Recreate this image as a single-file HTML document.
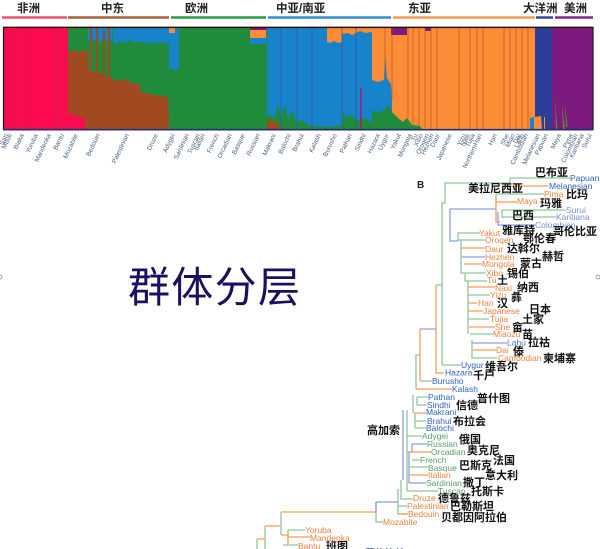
<!DOCTYPE html>
<html><head><meta charset="utf-8"><style>
html,body{margin:0;padding:0;background:#fff;width:600px;height:549px;overflow:hidden}
svg{display:block;position:absolute;left:0;top:0;filter:blur(.3px)}
.z{font-family:"Liberation Sans","Noto Sans CJK SC",sans-serif;font-weight:700;font-size:11px;fill:#111}
.t{font-family:"Liberation Sans","Noto Sans CJK SC",sans-serif;font-weight:700;font-size:11.5px;fill:#222}
.s{font-family:"Liberation Sans",sans-serif;font-size:6.5px;fill:#4a5f80}
.o{font-family:"Liberation Sans",sans-serif;font-size:8.5px;fill:#f08040}
.g{font-family:"Liberation Sans",sans-serif;font-size:8.5px;fill:#5aa06a}
.b{font-family:"Liberation Sans",sans-serif;font-size:8.5px;fill:#2f60c4}
.lg{stroke:#8ec79a;fill:none;stroke-width:1.3}
.lo{stroke:#ff9a55;fill:none;stroke-width:1.3}
.lb{stroke:#8f9fdc;fill:none;stroke-width:1.3}
</style></head><body>
<svg width="600" height="549" viewBox="0 0 600 549" xmlns="http://www.w3.org/2000/svg">
<g class="t">
<text x="17" y="12">非洲</text><text x="101" y="12">中东</text><text x="185" y="12">欧洲</text>
<text x="276" y="12">中亚/南亚</text><text x="408" y="12">东亚</text><text x="523" y="12">大洋洲</text><text x="564" y="12">美洲</text>
</g>
<g stroke-width="2.4" fill="none">
<path d="M2 17.500H67" stroke="#f0506e"/><path d="M68 17.500H169" stroke="#a5603a"/><path d="M171 17.500H266" stroke="#2f9a45"/>
<path d="M268 17.500H391" stroke="#2f8fd0"/><path d="M393 17.500H535" stroke="#f79a55"/><path d="M536 17.500H553" stroke="#34499c"/><path d="M555 17.500H593" stroke="#85288a"/>
</g>
<rect x="3" y="26" width="590" height="1.500" fill="#e8b080"/>
<rect x="3" y="28" width="65" height="101" fill="#fb0a50"/>
<rect x="68" y="28" width="199" height="101" fill="#208b3a"/>
<path d="M113 28H169V43L165 44 160 42 155 44 150 42 145 43 140 41 135 43 130 40 125 43 120 41 115 44 113 42Z" fill="#1683cb"/>
<path d="M88 28H112V40L108 42 105 38 100 42 95 40 90 42 88 40Z" fill="#1683cb"/>
<path d="M68 52L72 50 78 52 85 50 88 52 88 70 95 72 100 73 110 78 113 79 118 81 125 79 130 82 140 85 141 92 150 94 160 96 168 97 169 129H68Z" fill="#a14a22"/>
<path d="M90 28h2v45h-2zM96 28h2v45h-2zM103 30h2v45h-2zM108 28h2v50h-2z" fill="#a14a22"/>
<path d="M68 116L72 113 76 116 80 117 85 118V129H68Z" fill="#fb0a50"/>
<path d="M169 28H179V68L175 71 172 68 169 70Z" fill="#1683cb"/>
<path d="M169 28h6v5h-6z" fill="#f09040"/>
<path d="M250 28H266V30H250Z" fill="#7d1a7d"/><path d="M250 30H266V38H250Z" fill="#fd8c36"/><path d="M250 38H266V44H250Z" fill="#1683cb"/>
<rect x="267" y="28" width="105" height="101" fill="#1683cb"/>
<path d="M267 117L270 114 275 118 278 103 281 118 285 105 288 120 292 110 296 122 302 120 310 126 330 127 342 125 343 108 345 118 352 115 356 120 366 118 372 124V129H267Z" fill="#208b3a"/>
<path d="M267 118L272 122 275 120 278 125 282 129H267Z" fill="#a14a22"/>
<path d="M327 28H342V42L338 43 334 41 330 43 327 42Z" fill="#fd8c36"/>
<path d="M342 28H372V32L365 33 360 31 352 35 348 33 342 34Z" fill="#fd8c36"/>
<path d="M360 88h1.500v41H360z" fill="#a81a80"/>
<rect x="372" y="28" width="163" height="101" fill="#fd8c36"/>
<path d="M372 80L378 82 384 80 385 55 387 78 391 84 392 100 392 129H372Z" fill="#1683cb"/>
<path d="M372 110L378 113 384 110 388 105 392 112 398 118 403 122 407 118 412 125 420 126 422 129H372Z" fill="#208b3a"/>
<path d="M391 28H407V35H391ZM425 28H431V31H425Z" fill="#7d1a7d"/>
<path d="M530 118L534 117V129H530Z" fill="#1683cb"/>
<rect x="535" y="28" width="18" height="101" fill="#2a3e9a"/>
<path d="M535 117L541 116 542 129H535Z" fill="#fd8c36"/><path d="M544 117h1v12h-1z" fill="#fd8c36"/>
<rect x="552" y="28" width="41" height="101" fill="#7d1a7d"/>
<path d="M555 100l1 29h1.500zM562 105l1 24h2zM565 103l1 24h1.500z" fill="#5f8a3a"/>
<g stroke="#9a3060" stroke-width=".6" opacity=".7"><path d="M9 28V129M16 28V129M28 28V129M56 28V129M61 28V129"/></g>
<g stroke="#a8552a" stroke-width=".8" opacity=".8"><path d="M385 28V80M392 28V100M408 28V118M413 28V125M419 28V126M425 28V128M431 28V129M437 28V129M459 28V129M470 28V129M477 28V129M483 28V129M504 28V129M510 28V129M516 28V129M522 28V129M528 28V129"/></g>
<g stroke="#2c5ea0" stroke-width=".8"><path d="M281 28V129M297 28V129M312 28V129M342 28V129M356 28V129"/></g>
<rect x="3.500" y="27.500" width="589.500" height="102" fill="none" stroke="#141428" stroke-width="1.200"/>
<rect x="3" y="129" width="590" height="1.500" fill="#20307a"/>
<g class="s">
<text transform="translate(8,135) rotate(-65)" text-anchor="end">San</text>
<text transform="translate(12,135) rotate(-65)" text-anchor="end">Mbuti</text>
<text transform="translate(24,135) rotate(-65)" text-anchor="end">Biaka</text>
<text transform="translate(38,135) rotate(-65)" text-anchor="end">Yoruba</text>
<text transform="translate(51,135) rotate(-65)" text-anchor="end">Mandenka</text>
<text transform="translate(64,135) rotate(-65)" text-anchor="end">Bantu</text>
<text transform="translate(78,135) rotate(-65)" text-anchor="end">Mozabite</text>
<text transform="translate(100,135) rotate(-65)" text-anchor="end">Bedouin</text>
<text transform="translate(129,135) rotate(-65)" text-anchor="end">Palestinian</text>
<text transform="translate(158,135) rotate(-65)" text-anchor="end">Druze</text>
<text transform="translate(175,135) rotate(-65)" text-anchor="end">Adygei</text>
<text transform="translate(189,135) rotate(-65)" text-anchor="end">Sardinian</text>
<text transform="translate(200,135) rotate(-65)" text-anchor="end">Tuscan</text>
<text transform="translate(205,135) rotate(-65)" text-anchor="end">Italian</text>
<text transform="translate(219,135) rotate(-65)" text-anchor="end">French</text>
<text transform="translate(232,135) rotate(-65)" text-anchor="end">Orcadian</text>
<text transform="translate(245,135) rotate(-65)" text-anchor="end">Basque</text>
<text transform="translate(260,135) rotate(-65)" text-anchor="end">Russian</text>
<text transform="translate(276,135) rotate(-65)" text-anchor="end">Makrani</text>
<text transform="translate(291,135) rotate(-65)" text-anchor="end">Balochi</text>
<text transform="translate(304,135) rotate(-65)" text-anchor="end">Brahui</text>
<text transform="translate(321,135) rotate(-65)" text-anchor="end">Kalash</text>
<text transform="translate(337,135) rotate(-65)" text-anchor="end">Burusho</text>
<text transform="translate(352,135) rotate(-65)" text-anchor="end">Pathan</text>
<text transform="translate(366,135) rotate(-65)" text-anchor="end">Sindhi</text>
<text transform="translate(380,135) rotate(-65)" text-anchor="end">Hazara</text>
<text transform="translate(389,135) rotate(-65)" text-anchor="end">Uygur</text>
<text transform="translate(401,135) rotate(-65)" text-anchor="end">Yakut</text>
<text transform="translate(412,135) rotate(-65)" text-anchor="end">Mongola</text>
<text transform="translate(418,135) rotate(-65)" text-anchor="end">Tu</text>
<text transform="translate(423,135) rotate(-65)" text-anchor="end">Xibo</text>
<text transform="translate(429,135) rotate(-65)" text-anchor="end">Oroqen</text>
<text transform="translate(434,135) rotate(-65)" text-anchor="end">Hezhen</text>
<text transform="translate(440,135) rotate(-65)" text-anchor="end">Daur</text>
<text transform="translate(452,135) rotate(-65)" text-anchor="end">Japanese</text>
<text transform="translate(466,135) rotate(-65)" text-anchor="end">Yizu</text>
<text transform="translate(470,135) rotate(-65)" text-anchor="end">Naxi</text>
<text transform="translate(475,135) rotate(-65)" text-anchor="end">Tujia</text>
<text transform="translate(482,135) rotate(-65)" text-anchor="end">NorthernHan</text>
<text transform="translate(497,135) rotate(-65)" text-anchor="end">Han</text>
<text transform="translate(509,135) rotate(-65)" text-anchor="end">She</text>
<text transform="translate(515,135) rotate(-65)" text-anchor="end">Miao</text>
<text transform="translate(521,135) rotate(-65)" text-anchor="end">Dai</text>
<text transform="translate(524,135) rotate(-65)" text-anchor="end">Lahu</text>
<text transform="translate(528,135) rotate(-65)" text-anchor="end">Cambodian</text>
<text transform="translate(540,135) rotate(-65)" text-anchor="end">Melanesian</text>
<text transform="translate(548,135) rotate(-65)" text-anchor="end">Papuan</text>
<text transform="translate(561,135) rotate(-65)" text-anchor="end">Maya</text>
<text transform="translate(573,135) rotate(-65)" text-anchor="end">Pima</text>
<text transform="translate(578,135) rotate(-65)" text-anchor="end">Colombian</text>
<text transform="translate(584,135) rotate(-65)" text-anchor="end">Karitiana</text>
<text transform="translate(592,135) rotate(-65)" text-anchor="end">Surui</text>
</g>
<text x="128" y="302" font-family="'Noto Sans CJK SC',sans-serif" font-size="42" fill="#1c0f62" textLength="172">群体分层</text>
<circle cx="0" cy="277" r="2" fill="#fff" stroke="#777" stroke-width=".7"/><circle cx="598" cy="277" r="2" fill="#fff" stroke="#777" stroke-width=".7"/>
<text x="417" y="188" font-family="Liberation Sans,sans-serif" font-weight="700" font-size="10" fill="#222">B</text>
<g class="lg">
<path d="M442 365V203H445V183H510V178H570M510 178V186"/>
<path d="M458 241V233H480M458 233V240H485"/>
<path d="M496 194H544M496 194V202"/>
<path d="M502 210H566M502 210V217H556"/>
<path d="M461 240V273H486M465 273V281H487M468 281V295H490"/>
<path d="M468 319H489M470 334H493M472 340V358H497M468 295V334"/>
<path d="M442 285H436M442 365H461"/>
<path d="M416 389V355H420M413 395V413M417 397H428M417 405H427M415 421H426M415 428H426M407 410V436H422M415 413V428M417 397V405"/>
<path d="M412 460H420M409 467H428M407 491H438M401 480V499H413M398 489V514H408M398 506H407M407 436V491"/>
<path d="M376 502V522H383M420 381H432"/>
<path d="M281 512V535M265 526V549M257 539V549M288 530H305M283 545H298M288 530V537"/>
</g>
<g class="lo">
<path d="M510 186H548"/><path d="M496 198V222H500M496 202H517"/>
<path d="M461 248H485M464 264H482M468 287H495M468 303H477M468 311H483M469 327H495M473 350H496"/>
<path d="M436 285V373H444M420 329V381M416 389H452"/>
<path d="M414 413H426M407 452H431M409 475H428M398 514H408"/>
<path d="M281 512H376M265 526H281M257 539H265M281 535H288V545M288 537H310"/>
</g>
<g class="lb">
<path d="M450 209V241H458M450 209H496M498 212V225H535"/>
<path d="M462 257H485M472 343H507M420 329H436"/>
<path d="M403 410V480M412 444H427M409 483H426M376 502H398M376 502V512M412 444V452M409 452V483"/>
</g>
<g class="b">
<text x="570" y="181">Papuan</text><text x="549" y="189">Melanesian</text>
<text x="445" y="375.500">Hazara</text><text x="432" y="384">Burusho</text><text x="452" y="392">Kalash</text>
<text x="428" y="400">Pathan</text><text x="427" y="408">Sindhi</text><text x="426" y="415">Makrani</text><text x="427" y="424">Brahui</text><text x="426" y="431">Balochi</text>
<text x="461" y="368">Uygur</text><text x="507" y="345.500" fill="#4a7ac8">Lahu</text><text x="535" y="228" fill="#7a8fd8">Colombian</text><text x="566" y="213" fill="#7a8fd8">Surui</text><text x="556" y="220" fill="#7a8fd8">Karitiana</text>
</g>
<g class="o">
<text x="544" y="197">Pima</text><text x="517" y="204">Maya</text><text x="479" y="236">Yakut</text><text x="485" y="243">Oroqen</text><text x="485" y="252">Daur</text>
<text x="485" y="260">Hezhen</text><text x="482" y="267">Mongola</text><text x="486" y="276">Xibo</text><text x="487" y="283">Tu</text><text x="495" y="291">Naxi</text><text x="490" y="298">Yizu</text>
<text x="478" y="306">Han</text><text x="483" y="314">Japanese</text><text x="490" y="322">Tujia</text><text x="495" y="330">She</text><text x="493" y="337">Miaozu</text><text x="496" y="353">Dai</text><text x="498" y="361">Cambodian</text>
<text x="413" y="501">Druze</text><text x="407" y="509">Palestinian</text><text x="408" y="517">Bedouin</text><text x="383" y="525">Mozabite</text>
<text x="305" y="533">Yoruba</text><text x="310" y="541">Mandenka</text><text x="298" y="549">Bantu</text><text x="428" y="478">Italian</text>
</g>
<g class="g">
<text x="422" y="439">Adygei</text><text x="427" y="447">Russian</text><text x="431" y="455">Orcadian</text><text x="420" y="463">French</text><text x="428" y="471">Basque</text><text x="426" y="486">Sardinian</text><text x="438" y="494">Tuscan</text>
</g>
<g class="z">
<text x="535" y="176">巴布亚</text><text x="468" y="192">美拉尼西亚</text><text x="566" y="198">比玛</text><text x="540" y="207">玛雅</text><text x="512" y="219">巴西</text>
<text x="502" y="234">雅库特</text><text x="523" y="242">鄂伦春</text><text x="553" y="235">哥伦比亚</text><text x="507" y="252">达斡尔</text><text x="542" y="260">赫哲</text><text x="520" y="267">蒙古</text>
<text x="507" y="277">锡伯</text><text x="497" y="284">土</text><text x="517" y="291">纳西</text><text x="511" y="301">彝</text><text x="497" y="307">汉</text><text x="529" y="313">日本</text>
<text x="522" y="323">土家</text><text x="512" y="331">畲</text><text x="522" y="338">苗</text><text x="528" y="346">拉祜</text><text x="513" y="355">傣</text><text x="543" y="362">柬埔寨</text>
<text x="485" y="370">维吾尔</text><text x="473" y="379">千户</text><text x="477" y="402">普什图</text><text x="456" y="409">信德</text><text x="453" y="425">布拉会</text><text x="367" y="434">高加索</text>
<text x="459" y="443">俄国</text><text x="467" y="454">奥克尼</text><text x="493" y="464">法国</text><text x="459" y="469">巴斯克</text><text x="485" y="479">意大利</text><text x="463" y="486">撒丁</text>
<text x="471" y="495">托斯卡</text><text x="438" y="502">德鲁兹</text><text x="450" y="510">巴勒斯坦</text><text x="441" y="521">贝都因阿拉伯</text><text x="326" y="550">班图</text>
<text x="365" y="557" style="fill:#2a3a90;font-size:10px">莫扎比特</text>
</g>
</svg>
</body></html>
